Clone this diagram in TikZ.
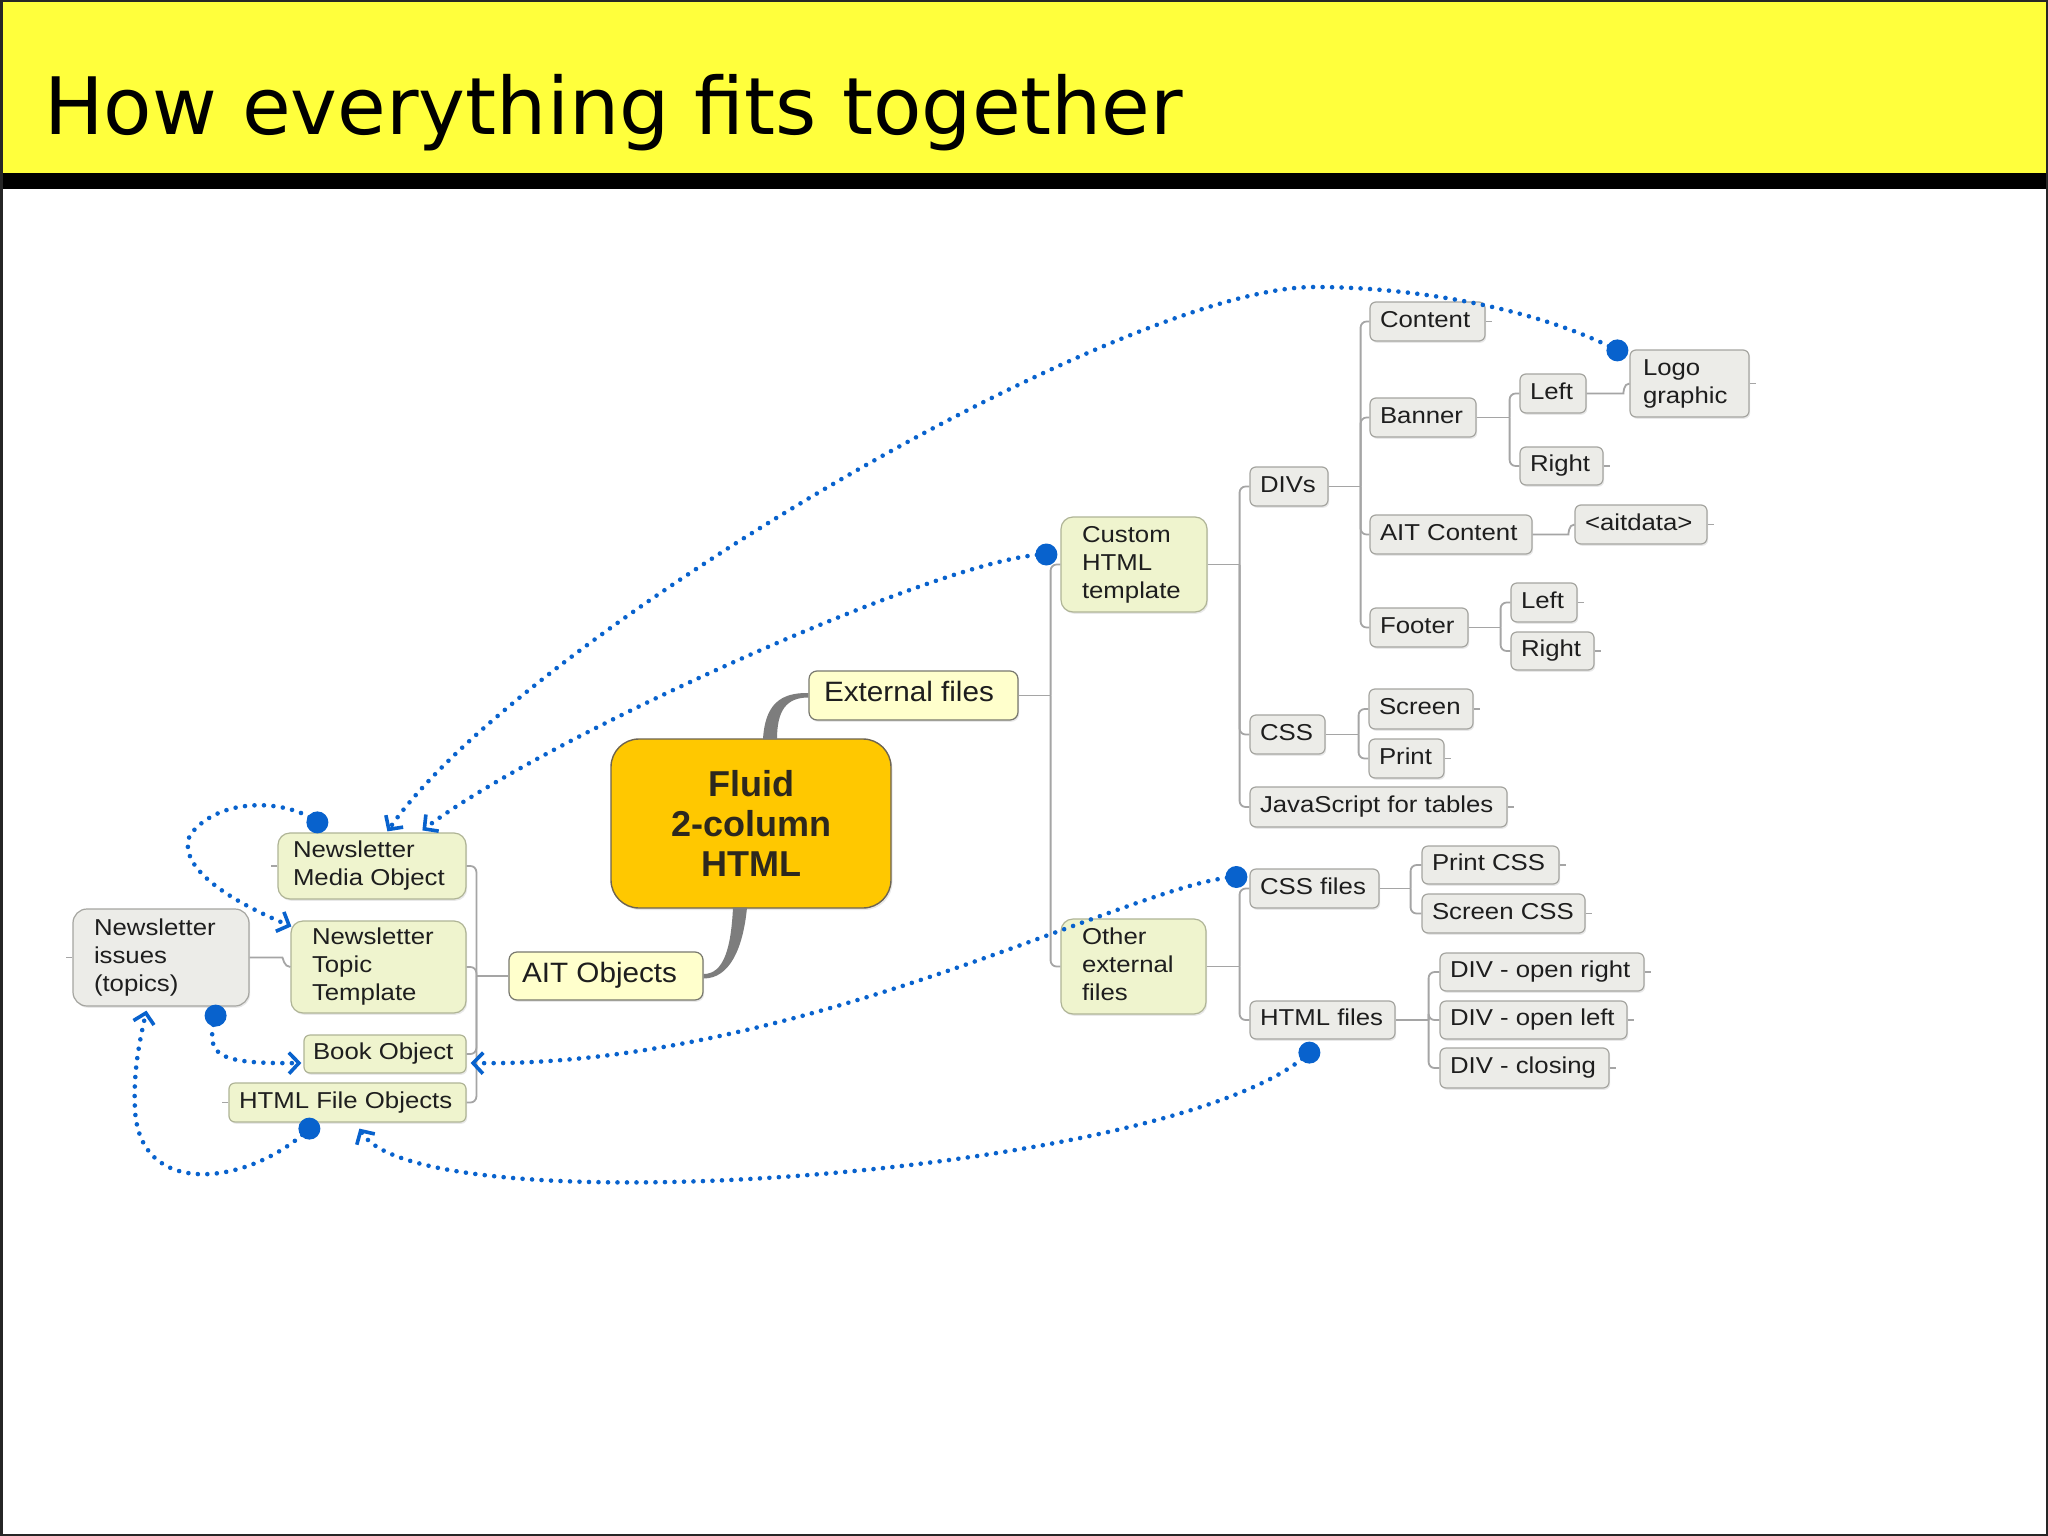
\documentclass[tikz,border=0pt]{standalone}
\usepackage{fontspec}
\usetikzlibrary{arrows.meta,calc,shadows}
\newfontfamily\nf[FakeStretch=1.12]{Liberation Sans}
\newfontfamily\nfb[FakeStretch=1.06]{Liberation Sans}
\newfontfamily\nfbold[FakeStretch=1.0]{Liberation Sans Bold}
\newfontfamily\tf{DejaVu Sans}
\definecolor{titleyellow}{RGB}{255,255,60}
\definecolor{txt}{RGB}{30,30,30}
\definecolor{centtxt}{RGB}{45,40,30}
\definecolor{leaffill}{RGB}{236,236,232}
\definecolor{leafdraw}{RGB}{165,165,160}
\definecolor{greenfill}{RGB}{239,244,206}
\definecolor{greendraw}{RGB}{175,180,150}
\definecolor{yelfill}{RGB}{255,255,204}
\definecolor{yeldraw}{RGB}{120,120,110}
\definecolor{centfill}{RGB}{255,200,0}
\definecolor{centdraw}{RGB}{110,100,80}
\definecolor{treegray}{RGB}{165,165,165}
\definecolor{branchgray}{RGB}{125,125,125}
\definecolor{relblue}{RGB}{8,98,205}
\tikzset{
  mmbase/.style={draw, line width=1.2pt, rounded corners=6pt, inner ysep=0pt, text=txt,
    font=\nf\fontsize{23}{28}\selectfont,
    drop shadow={opacity=0.18, shadow xshift=1.2pt, shadow yshift=-1.8pt}},
  mmleaf/.style={mmbase, fill=leaffill, draw=leafdraw},
  mmgreen/.style={mmbase, fill=greenfill, draw=greendraw, rounded corners=12pt},
  mmgreensmall/.style={mmbase, fill=greenfill, draw=greendraw, rounded corners=6pt},
  mmmain/.style={mmbase, fill=yelfill, draw=yeldraw, rounded corners=8pt, font=\nfb\fontsize{28}{32}\selectfont},
  mmissue/.style={mmbase, fill=leaffill, draw=leafdraw, rounded corners=14pt},
  mmcentral/.style={draw=centdraw, fill=centfill, line width=1.4pt, rounded corners=28pt, text=centtxt,
    font=\nfbold\fontsize{36}{40}\selectfont, align=center,
    drop shadow={opacity=0.18, shadow xshift=1.5pt, shadow yshift=-2pt}},
  tree/.style={draw=treegray, line width=1.8pt, rounded corners=6pt},
  stub/.style={draw=treegray, line width=1.5pt},
  branch/.style={fill=branchgray},
  rel/.style={draw=relblue, line width=4.6pt, line cap=round, dash pattern=on 0pt off 9.5pt,
    -{Straight Barb[length=10pt,width=21pt,line width=3.6pt]}},
  reldot/.style={fill=relblue},
  titletext/.style={font=\tf\fontsize{79.2}{90}\selectfont, anchor=base west, inner sep=0pt, text=black}
}
% style, name, x1, y1, x2, y2, pad, text
\newcommand\mmnode[8]{%
  \pgfmathsetlengthmacro\mmW{(#5-#3-2*#7)*1pt}%
  \node[#1, inner xsep=#7pt, minimum width={(#5-#3)*1pt}, minimum height={(#6-#4)*1pt}]
    (#2) at ({(#3+#5)/2},{(#4+#6)/2})
    {\makebox[\mmW][l]{\begin{tabular}{@{}l@{}}#8\end{tabular}}};}
\begin{document}
\begin{tikzpicture}[x=1pt,y=-1pt]
\useasboundingbox (0,0) rectangle (2048,1536);
\fill[white] (0,0) rectangle (2048,1536);
% title band
\fill[titleyellow] (0,0) rectangle (2048,173);
\fill[black] (0,173) rectangle (2048,189);
\node[titletext] (title) at (44,135) {How everything fits together};
\draw[line width=2.5pt, draw=black!85] (1.25,1.25) rectangle (2046.75,1534.75);

% central
\node[mmcentral, minimum width=280pt, minimum height=169pt] (central) at (751,823.5) {Fluid\\2-column\\HTML};
\mmnode{mmmain}{ext}{809}{671}{1018}{720}{15}{External files}
\mmnode{mmmain}{ait}{509}{952}{703}{1000}{13}{AIT Objects}

% right side
\mmnode{mmgreen}{custom}{1061}{517}{1207}{612}{21}{Custom\\HTML\\template}
\mmnode{mmgreen}{other}{1061}{919}{1206}{1014}{21}{Other\\external\\files}
\mmnode{mmleaf}{divs}{1250}{467}{1328}{506}{10}{DIVs}
\mmnode{mmleaf}{css}{1250}{715}{1325}{754}{10}{CSS}
\mmnode{mmleaf}{js}{1250}{787}{1507}{827}{10}{JavaScript for tables}
\mmnode{mmleaf}{content}{1370}{302}{1485}{341}{10}{Content}
\mmnode{mmleaf}{banner}{1370}{398}{1476}{437}{10}{Banner}
\mmnode{mmleaf}{bleft}{1520}{374}{1586}{413}{10}{Left}
\mmnode{mmleaf}{bright}{1520}{447}{1603}{485}{10}{Right}
\mmnode{mmleaf}{logo}{1630}{350}{1749}{417}{13}{Logo\\graphic}
\mmnode{mmleaf}{aitc}{1370}{515}{1532}{554}{10}{AIT Content}
\mmnode{mmleaf}{aitdata}{1575}{505}{1707}{544}{10}{\textless aitdata\textgreater}
\mmnode{mmleaf}{footer}{1370}{608}{1468}{647}{10}{Footer}
\mmnode{mmleaf}{fleft}{1511}{583}{1577}{622}{10}{Left}
\mmnode{mmleaf}{fright}{1511}{632}{1594}{670}{10}{Right}
\mmnode{mmleaf}{screen}{1369}{689}{1473}{729}{10}{Screen}
\mmnode{mmleaf}{print}{1369}{739}{1444}{778}{10}{Print}
\mmnode{mmleaf}{cssfiles}{1250}{869}{1379}{908}{10}{CSS files}
\mmnode{mmleaf}{printcss}{1422}{846}{1559}{884}{10}{Print CSS}
\mmnode{mmleaf}{screencss}{1422}{894}{1585}{933}{10}{Screen CSS}
\mmnode{mmleaf}{htmlfiles}{1250}{1001}{1395}{1039}{10}{HTML files}
\mmnode{mmleaf}{divor}{1440}{953}{1644}{991}{10}{DIV - open right}
\mmnode{mmleaf}{divol}{1440}{1001}{1627}{1039}{10}{DIV - open left}
\mmnode{mmleaf}{divcl}{1440}{1048}{1609}{1088}{10}{DIV - closing}

% left side
\mmnode{mmgreen}{nmo}{278}{833}{466}{899}{15}{Newsletter\\Media Object}
\mmnode{mmgreen}{ntt}{291}{921}{466}{1013}{21}{Newsletter\\Topic\\Template}
\mmnode{mmgreensmall}{book}{304}{1035}{466}{1073}{9}{Book Object}
\mmnode{mmgreensmall}{htmlfo}{229}{1083}{466}{1122}{10}{HTML File Objects}
\mmnode{mmissue}{issues}{73}{909}{249}{1006}{21}{Newsletter\\issues\\(topics)}

% thick central branches
\fill[branch] ($(central.north)+(12,1)$) .. controls ($(central.north)+(14,-34)$) and ($(ext.west)+(-28,-3)$) .. ($(ext.west)+(0,-2.5)$)
  -- ($(ext.west)+(0,2)$) .. controls ($(ext.west)+(-22,2)$) and ($(central.north)+(26,-28)$) .. ($(central.north)+(26,1)$) -- cycle;
\fill[branch] ($(central.south)+(-18,-1)$) .. controls ($(central.south)+(-20,40)$) and ($(ait.east)+(20,-2)$) .. ($(ait.east)+(0,-2)$)
  -- ($(ait.east)+(0,2.5)$) .. controls ($(ait.east)+(26,2.5)$) and ($(central.south)+(-8,40)$) .. ($(central.south)+(-4,-1)$) -- cycle;

% bus coordinates
\coordinate (xb) at ($(ext.east)+(32,0)$);
\coordinate (cb) at ($(custom.east)+(32,0)$);
\coordinate (db) at ($(divs.east)+(32,0)$);
\coordinate (bb) at ($(banner.east)+(33,0)$);
\coordinate (fb) at ($(footer.east)+(32,0)$);
\coordinate (sb) at ($(css.east)+(33,0)$);
\coordinate (ob) at ($(other.east)+(33,0)$);
\coordinate (cfb) at ($(cssfiles.east)+(31,0)$);
\coordinate (hb) at ($(htmlfiles.east)+(33,0)$);
\coordinate (ab) at ($(ait.west)+(-32,0)$);

% tree connectors
\draw[tree] (ext.east) -- (xb);
\draw[tree] (xb) |- (custom.west);
\draw[tree] (xb) |- (other.west);
\draw[tree] (custom.east) -- (cb);
\draw[tree] (cb) |- (divs.west);
\draw[tree] (cb) |- (css.west);
\draw[tree] (cb) |- (js.west);
\draw[tree] (divs.east) -- (db);
\draw[tree] (db) |- (content.west);
\draw[tree] (db) |- (banner.west);
\draw[tree] (db) |- (aitc.west);
\draw[tree] (db) |- (footer.west);
\draw[tree] (banner.east) -- (bb);
\draw[tree] (bb) |- (bleft.west);
\draw[tree] (bb) |- (bright.west);
\draw[tree] (bleft.east) -- ([xshift=-12pt]logo.west |- bleft.east) to[out=0,in=180] (logo.west);
\draw[tree] (aitc.east) -- ([xshift=-12pt]aitdata.west |- aitc.east) to[out=0,in=180] (aitdata.west);
\draw[tree] (footer.east) -- (fb);
\draw[tree] (fb) |- (fleft.west);
\draw[tree] (fb) |- (fright.west);
\draw[tree] (css.east) -- (sb);
\draw[tree] (sb) |- (screen.west);
\draw[tree] (sb) |- (print.west);
\draw[tree] (other.east) -- (ob);
\draw[tree] (ob) |- (cssfiles.west);
\draw[tree] (ob) |- (htmlfiles.west);
\draw[tree] (cssfiles.east) -- (cfb);
\draw[tree] (cfb) |- (printcss.west);
\draw[tree] (cfb) |- (screencss.west);
\draw[tree] (htmlfiles.east) -- (hb);
\draw[tree] (hb) |- (divor.west);
\draw[tree] (hb) |- (divol.west);
\draw[tree] (hb) |- (divcl.west);
\draw[tree] (ait.west) -- (ab);
\draw[tree] (ab) |- (nmo.east);
\draw[tree] (ab) |- (ntt.east);
\draw[tree] (ab) |- (book.east);
\draw[tree] (ab) |- (htmlfo.east);
\draw[tree] (issues.east) -- ([xshift=-14pt]ntt.west |- issues.east) to[out=0,in=180] (ntt.west);

% stubs
\foreach \n in {content,bright,logo,aitdata,fleft,fright,screen,print,js,printcss,screencss,divor,divol,divcl}
  {\draw[stub] (\n.east) -- ++(6,0);}
\foreach \n in {issues,nmo,htmlfo}
  {\draw[stub] (\n.west) -- ++(-6,0);}

% relationship end points
\coordinate (r1s) at ($(logo.north west)+(-12,1)$);
\coordinate (r1e) at ($(nmo.north west)+(110,-1)$);
\coordinate (r2s) at ($(custom.west)+(-14,-10)$);
\coordinate (r2e) at ($(nmo.north west)+(145,-2)$);
\coordinate (r3s) at ($(nmo.north west)+(40,-10)$);
\coordinate (r3e) at ($(ntt.north west)+(1,6)$);
\coordinate (r4s) at ($(issues.south east)+(-34,9)$);
\coordinate (r4e) at ($(book.west)+(-2,9)$);
\coordinate (r5s) at ($(cssfiles.west)+(-13,-11.5)$);
\coordinate (r5e) at ($(book.east)+(4,9)$);
\coordinate (r6s) at ($(htmlfo.south west)+(81,6)$);
\coordinate (r6e) at ($(issues.south west)+(74,4)$);
\coordinate (r7s) at ($(htmlfiles.south west)+(60,13)$);
\coordinate (r7e) at ($(htmlfo.south west)+(131,6)$);

% relationships
\draw[rel] (r1s) .. controls (1540,310) and (1420,287) .. (1314,287)
  .. controls (1120,287) and (520,640) .. (r1e);
\draw[rel] (r2s) .. controls (950,554) and (540,740) .. (r2e);
\draw[rel] (r3s) .. controls (290,800) and (220,795) .. (190,835)
  .. controls (175,870) and (240,905) .. (r3e);
\draw[rel] (r4s) .. controls (205,1055) and (215,1064) .. (r4e);
\draw[rel] (r5s) .. controls (1140,880) and (800,1068) .. (r5e);
\draw[rel] (r6s) .. controls (250,1185) and (140,1200) .. (135,1110)
  .. controls (133,1070) and (140,1040) .. (r6e);
\draw[rel] (r7s) .. controls (1180,1175) and (420,1230) .. (r7e);

\foreach \c in {r1s,r2s,r3s,r4s,r5s,r6s,r7s}
  {\fill[reldot] (\c) circle[radius=11pt];}
\end{tikzpicture}
\end{document}
